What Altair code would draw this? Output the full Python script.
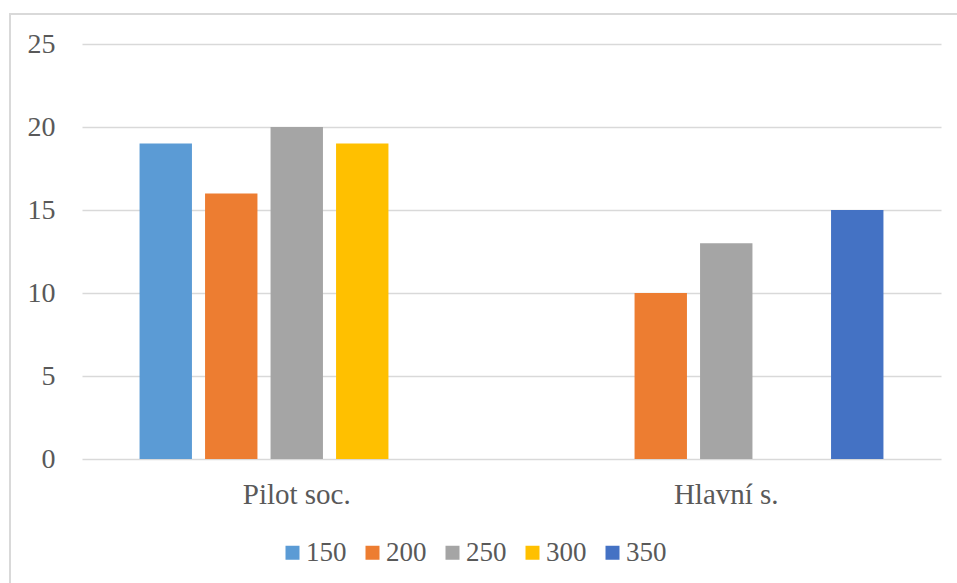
import altair as alt
import pandas as pd

# Categories, series and values
categories = ["Pilot soc.", "Hlavní s."]
series = ["150", "200", "250", "300", "350"]
pilot_values = [19, 16, 20, 19, None]
hlavni_values = [None, 10, 13, None, 15]
colors = ["#5B9BD5", "#ED7D31", "#A5A5A5", "#FFC000", "#4472C4"]
y_ticks = [0, 5, 10, 15, 20, 25]

rows = []
for cat, vals in zip(categories, [pilot_values, hlavni_values]):
    for s, v in zip(series, vals):
        if v is not None:
            rows.append({"kategorie": cat, "serie": s, "hodnota": v})
df = pd.DataFrame(rows)

FONT = "Liberation Serif"
TEXT = "#595959"
GRID = "#D9D9D9"

bars = alt.Chart(df).mark_bar().encode(
    x=alt.X(
        "kategorie:N",
        sort=categories,
        scale=alt.Scale(paddingInner=0.2375, paddingOuter=0.11875),
        axis=alt.Axis(
            title=None, labelAngle=0, ticks=False, domain=False, grid=False,
            labelFontSize=29, labelFont=FONT, labelColor=TEXT,
            labelBaseline="alphabetic", labelPadding=44,
        ),
    ),
    xOffset=alt.XOffset(
        "serie:N",
        scale=alt.Scale(domain=series, paddingInner=0.2, paddingOuter=0.1),
    ),
    y=alt.Y(
        "hodnota:Q",
        scale=alt.Scale(domain=[0, 25], nice=False),
        axis=alt.Axis(
            title=None, values=y_ticks, ticks=False, domain=False,
            gridColor=GRID, gridWidth=1.5,
            labelFontSize=28, labelFont=FONT, labelColor=TEXT, labelPadding=27,
        ),
    ),
    color=alt.Color(
        "serie:N",
        scale=alt.Scale(domain=series, range=colors),
        legend=alt.Legend(
            title=None, orient="none", direction="horizontal",
            legendX=197, legendY=495, padding=0,
            symbolType="square", symbolSize=196, symbolStrokeWidth=0,
            labelFontSize=27, labelFont=FONT, labelColor=TEXT,
            labelOffset=0, columnPadding=12,
        ),
    ),
)

# Light outline around the whole chart area
frame = alt.Chart(alt.Data(values=[{}])).mark_rect(
    fill=None, stroke=GRID, strokeWidth=2
).encode(
    x=alt.value(-72), x2=alt.value(890),
    y=alt.value(-30), y2=alt.value(560),
)

chart = alt.layer(frame, bars).properties(
    width=859,
    height=415,
    autosize=alt.AutoSizeParams(type="none"),
    padding={"left": 82, "top": 44, "right": 16, "bottom": 124},
    background="white",
).configure_view(stroke=None)

chart.save("out.html", embed_options={"renderer": "svg", "actions": False})
